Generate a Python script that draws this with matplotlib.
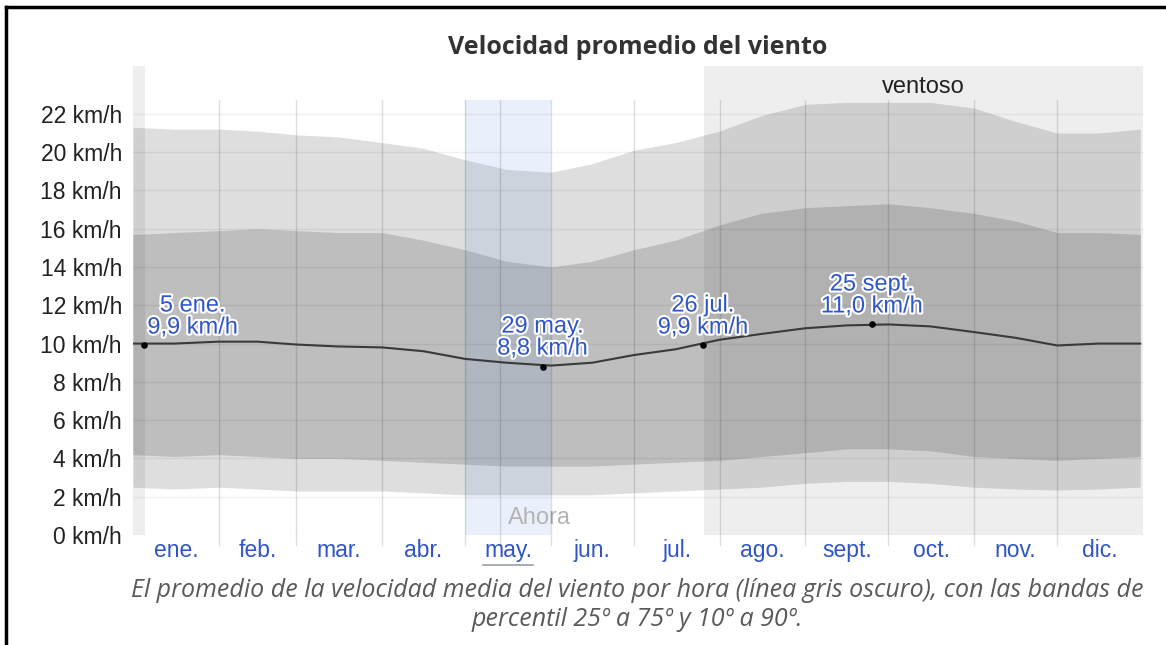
import numpy as np
import matplotlib
matplotlib.use("Agg")
import matplotlib.pyplot as plt
import matplotlib.patheffects as pe

# day of year for the sampled points (0 = 1 ene.)
days = [0, 15, 31, 45, 59, 74, 90, 105, 120, 135, 151, 166, 181,
        196, 212, 227, 243, 258, 273, 288, 304, 319, 334, 349, 364]
mean_speed = [10.0, 10.0, 10.1, 10.1, 9.95, 9.85, 9.8, 9.6, 9.2, 9.0, 8.85, 9.0, 9.4,
              9.7, 10.2, 10.5, 10.8, 10.95, 11.0, 10.9, 10.6, 10.3, 9.9, 10.0, 10.0]
p10 = [2.5, 2.4, 2.5, 2.4, 2.3, 2.3, 2.3, 2.2, 2.1, 2.1, 2.1, 2.1, 2.2,
       2.3, 2.4, 2.5, 2.7, 2.8, 2.8, 2.7, 2.5, 2.4, 2.35, 2.4, 2.5]
p25 = [4.2, 4.1, 4.2, 4.1, 4.0, 4.0, 3.9, 3.8, 3.7, 3.6, 3.6, 3.6, 3.7,
       3.8, 3.9, 4.1, 4.3, 4.5, 4.5, 4.4, 4.1, 4.0, 3.9, 4.0, 4.1]
p75 = [15.7, 15.8, 15.9, 16.0, 15.9, 15.8, 15.8, 15.4, 14.9, 14.3, 14.0, 14.3, 14.9,
       15.4, 16.2, 16.8, 17.1, 17.2, 17.3, 17.1, 16.8, 16.4, 15.8, 15.8, 15.7]
p90 = [21.3, 21.2, 21.2, 21.1, 20.9, 20.8, 20.5, 20.2, 19.6, 19.1, 18.95, 19.4, 20.1,
       20.5, 21.1, 21.9, 22.5, 22.6, 22.6, 22.6, 22.3, 21.6, 21.0, 21.0, 21.2]

# labelled points
mark_days = [4, 148, 206, 267]
mark_vals = [9.9, 8.8, 9.9, 11.0]
mark_labels = ["5 ene.\n9,9 km/h", "29 may.\n8,8 km/h", "26 jul.\n9,9 km/h", "25 sept.\n11,0 km/h"]
mark_dx = [35, 0, 0, 0]

month_starts = [0, 31, 59, 90, 120, 151, 181, 212, 243, 273, 304, 334, 365]
month_names = ["ene.", "feb.", "mar.", "abr.", "may.", "jun.", "jul.", "ago.",
               "sept.", "oct.", "nov.", "dic."]
yticks = list(range(0, 23, 2))

windy_periods = [(0, 4.3), (206.5, 365)]
now_month = (120, 151)
now_day = 132.6

font = ["Liberation Sans", "DejaVu Sans"]
blue = "#2f55c8"

fig = plt.figure(figsize=(11.66, 6.45), dpi=100)
ax = fig.add_axes([133 / 1166, 1 - 535 / 645, 1010 / 1166, 469 / 645])
ax.set_xlim(0, 365)
ax.set_ylim(0, 24.5)
for s in ax.spines.values():
    s.set_visible(False)

# percentile bands
ax.fill_between(days, p10, p90, color="#dedede", lw=0, zorder=1)
ax.fill_between(days, p25, p75, color="#bebebe", lw=0, zorder=2)

# windy season shading
for a, b in windy_periods:
    ax.axvspan(a, b, ymin=0, ymax=1, color="black", alpha=0.065, lw=0, zorder=3)

# current month
ax.fill_between(now_month, 0, 22.7, color=(0.2, 0.45, 0.85), alpha=0.1, lw=0, zorder=3)

# grid
for y in yticks:
    ax.axhline(y, color="black", alpha=0.06, lw=1, zorder=4)
for d in month_starts[1:-1] + [now_day]:
    ax.plot([d, d], [-0.5, 22.7], color="black", alpha=0.13, lw=1, zorder=4, clip_on=False)

ax.plot(days, mean_speed, color="#3a3a3a", lw=1.5, zorder=5)
ax.scatter(mark_days, mark_vals, s=14, color="black", zorder=6)

halo = [pe.withStroke(linewidth=3, foreground="white")]
for d, v, lab, dx in zip(mark_days, mark_vals, mark_labels, mark_dx):
    ax.annotate(lab, (d, v), xytext=(dx, 5), textcoords="offset points",
                ha="center", va="bottom", fontsize=17, color=blue,
                family=font, path_effects=halo, linespacing=1.0, zorder=7)

ax.text(sum(windy_periods[1]) / 2, 23.4, "ventoso", ha="center", va="center",
        fontsize=17, color="#222222", family=font)
ax.text(147, 0.9, "Ahora", ha="center", va="center", fontsize=17,
        color="#b4b4b4", family=font)

ax.set_yticks(yticks)
ax.set_yticklabels([f"{y} km/h" for y in yticks], family=font, fontsize=16.5, color="#222222")
ax.tick_params(axis="y", length=0, pad=8)
centers = [(month_starts[i] + month_starts[i + 1]) / 2 for i in range(12)]
ax.set_xticks(centers)
ax.set_xticklabels(month_names, family=font, fontsize=16.5, color=blue)
ax.tick_params(axis="x", length=0, pad=3)
ax.plot([centers[4] - 9, centers[4] + 9], [-1.55, -1.55], color="#9aa0a8", lw=1.2, clip_on=False)

fig.text((133 + 1143) / 2 / 1166, 1 - 47 / 645, "Velocidad promedio del viento",
         ha="center", va="center", fontsize=18, fontweight="bold",
         color="#333333", family=["Open Sans", "DejaVu Sans"])
fig.text(637 / 1166, 1 - 605 / 645,
         "El promedio de la velocidad media del viento por hora (línea gris oscuro), con las bandas de\n"
         "percentil 25º a 75º y 10º a 90º.",
         ha="center", va="center", fontsize=18, style="italic", color="#5a5a5a",
         family=["Open Sans", "DejaVu Sans"], linespacing=1.2)

# frame lines on top and left
fig.add_artist(plt.Line2D([6 / 1166, 6 / 1166], [0, 1 - 7 / 645], color="black", lw=2.5))
fig.add_artist(plt.Line2D([6 / 1166, 1], [1 - 7 / 645, 1 - 7 / 645], color="black", lw=2.5))

fig.savefig("out.png", dpi=100)
